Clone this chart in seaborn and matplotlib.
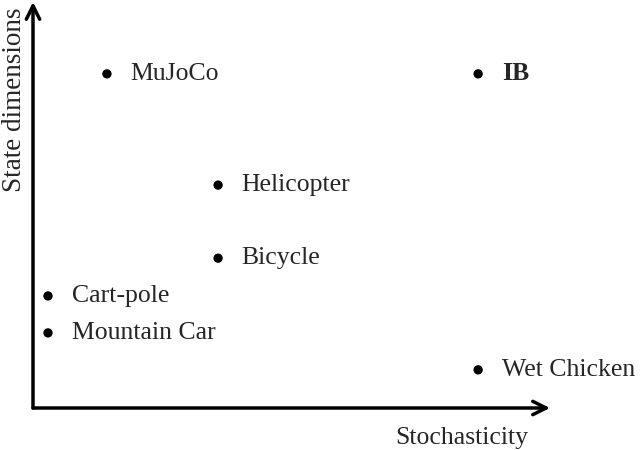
import pandas as pd
import matplotlib.pyplot as plt
import seaborn as sns

# environments placed by stochasticity (x) and state dimensions (y), arbitrary units
envs = ["MuJoCo", "IB", "Helicopter", "Bicycle", "Cart-pole", "Mountain Car", "Wet Chicken"]
stochasticity = [14.3, 86.1, 35.8, 35.8, 2.9, 2.9, 86.1]
state_dims = [82.3, 82.3, 54.9, 36.9, 27.6, 18.5, 9.4]

df = pd.DataFrame({"Env": envs, "Stochasticity": stochasticity, "State": state_dims})

sns.set_style("white")
plt.rcParams["font.family"] = ["Liberation Serif", "DejaVu Serif"]

fig = plt.figure(figsize=(6.4, 4.5), dpi=100)
ax = fig.add_axes([33 / 640, 42 / 450, 517 / 640, 406 / 450])

sns.scatterplot(x="Stochasticity", y="State", data=df, color="black", s=45,
                edgecolor="none", ax=ax, clip_on=False)

for _, row in df.iterrows():
    ax.annotate(row["Env"], (row["Stochasticity"], row["State"]),
                xytext=(17, 0), textcoords="offset points", va="center", ha="left",
                fontsize=18.5, fontweight="bold" if row["Env"] == "IB" else "normal")

ax.set_xlim(0, 100)
ax.set_ylim(0, 100)
for s in ax.spines.values():
    s.set_visible(False)
ax.set_xticks([])
ax.set_yticks([])

# axis arrows
arrow = dict(arrowstyle="->", lw=2.5, color="black", mutation_scale=24,
             shrinkA=0, shrinkB=0)
ax.annotate("", xy=(1, 0), xytext=(0, 0), xycoords="axes fraction", arrowprops=arrow)
ax.annotate("", xy=(0, 1), xytext=(0, 0), xycoords="axes fraction", arrowprops=arrow)

ax.set_xlabel("Stochasticity", fontsize=18.5)
ax.set_ylabel("State dimensions", fontsize=19.5)
ax.xaxis.set_label_coords(429 / 517, -19 / 406)
ax.yaxis.set_label_coords(-6 / 517, 308 / 406)

fig.savefig("out.png", dpi=100)
